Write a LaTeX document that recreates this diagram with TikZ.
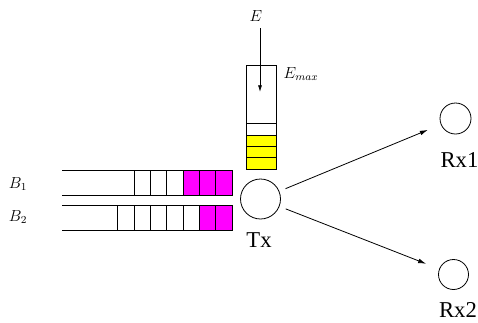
\documentclass[tikz,border=0pt]{standalone}
\usepackage{fontspec}
\setmainfont{Liberation Serif}
\usetikzlibrary{arrows.meta}
\definecolor{buffmag}{RGB}{255,0,255}
\definecolor{buffyel}{RGB}{255,255,0}
\tikzset{
  station/.style={circle,draw,inner sep=0pt},
  biglabel/.style={font=\fontsize{17}{19}\selectfont,inner sep=0pt},
  mathlabel/.style={font=\fontsize{11.5}{13}\selectfont},
  link/.style={-{Latex[length=6pt,width=3.5pt]}}
}
\begin{document}
\begin{tikzpicture}[x=0.75pt,y=-0.75pt,line width=0.6pt]
\useasboundingbox (0,0) rectangle (478,322);
% data buffer B1
\draw (62,170) -- (232,170) -- (232,195) -- (62,195);
\foreach \i in {4,5,6}
  \draw ({232-\i*16.33},170) -- ++(0,25);
\foreach \i in {1,2,3}
  \draw[fill=buffmag] ({232-\i*16.33},170) rectangle +(16.33,25);
% data buffer B2
\draw (62,205) -- (232,205) -- (232,230) -- (62,230);
\foreach \i in {3,...,7}
  \draw ({232-\i*16.33},205) -- ++(0,25);
\foreach \i in {1,2}
  \draw[fill=buffmag] ({232-\i*16.33},205) rectangle +(16.33,25);
\node[mathlabel] (b1) at (18,184) {$B_1$};
\node[mathlabel] (b2) at (18,217) {$B_2$};
% energy buffer
\draw (246,65) rectangle (276,169);
\draw (246,123) -- (276,123);
\foreach \j in {0,1,2}
  \draw[fill=buffyel] (246,{135+\j*11.33}) rectangle +(30,11.33);
\node[mathlabel] (e) at (256,16) {$E$};
\node[mathlabel] (emax) at (301,74) {$E_{max}$};
\coordinate (ein) at (260,28);
\coordinate (eend) at (260,92);
\draw[-{Latex[length=5pt,width=3pt]}] (ein) -- (eend);
% transmitter and receivers
\node[station,minimum size=30pt] (tx) at (260.5,199) {};
\node[biglabel] (txlabel) at (259,240) {Tx};
\node[station,minimum size=23.25pt] (rx1) at (455.5,118.5) {};
\node[biglabel] (rx1label) at (459.5,160) {Rx1};
\node[station,minimum size=22.5pt] (rx2) at (453.5,274.5) {};
\node[biglabel] (rx2label) at (458,310) {Rx2};
\draw[link,shorten <=5pt,shorten >=10.5pt] (tx) -- (rx1);
\draw[link,shorten <=5pt,shorten >=10.5pt] (tx) -- (rx2);
\end{tikzpicture}
\end{document}
